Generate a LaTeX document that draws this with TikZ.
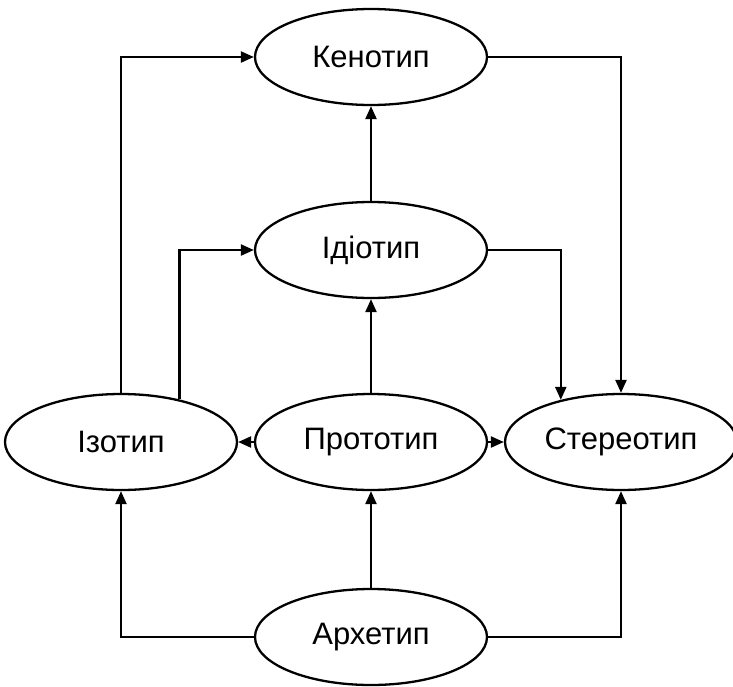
\documentclass[tikz,border=0pt]{standalone}
\usepackage{fontspec}
\setmainfont{Liberation Sans}
\usetikzlibrary{shapes.geometric,arrows.meta}
\begin{document}
\begin{tikzpicture}[x=1pt,y=1pt,
  oval/.style={ellipse, draw, line width=2.3pt, minimum width=232pt, minimum height=96pt, inner sep=0pt, font=\fontsize{31}{35}\selectfont},
  conn/.style={line width=2.3pt, -{Triangle[length=13pt,width=11pt]}}]
\useasboundingbox (0,0) rectangle (733,-686);
\node[oval] (keno) at (371,-57) {Кенотип};
\node[oval] (idio) at (371,-250) {Ідіотип};
\node[oval] (izo) at (121,-442) {Ізотип};
\node[oval] (proto) at (371,-442) {Прототип};
\node[oval] (ster) at (621,-442) {Стереотип};
\node[oval] (arch) at (371,-637) {Архетип};
\draw[conn] (izo.north) |- (keno.west);
\draw[conn] (izo.36.3) |- (idio.west);
\draw[conn] (keno.east) -| (ster.north);
\draw[conn] (idio.east) -| (ster.145.6);
\draw[conn] (idio.north) -- (keno.south);
\draw[conn] (proto.north) -- (idio.south);
\draw[conn] (proto.west) -- (izo.east);
\draw[conn] (proto.east) -- (ster.west);
\draw[conn] (arch.north) -- (proto.south);
\draw[conn] (arch.west) -| (izo.south);
\draw[conn] (arch.east) -| (ster.south);
\end{tikzpicture}
\end{document}
